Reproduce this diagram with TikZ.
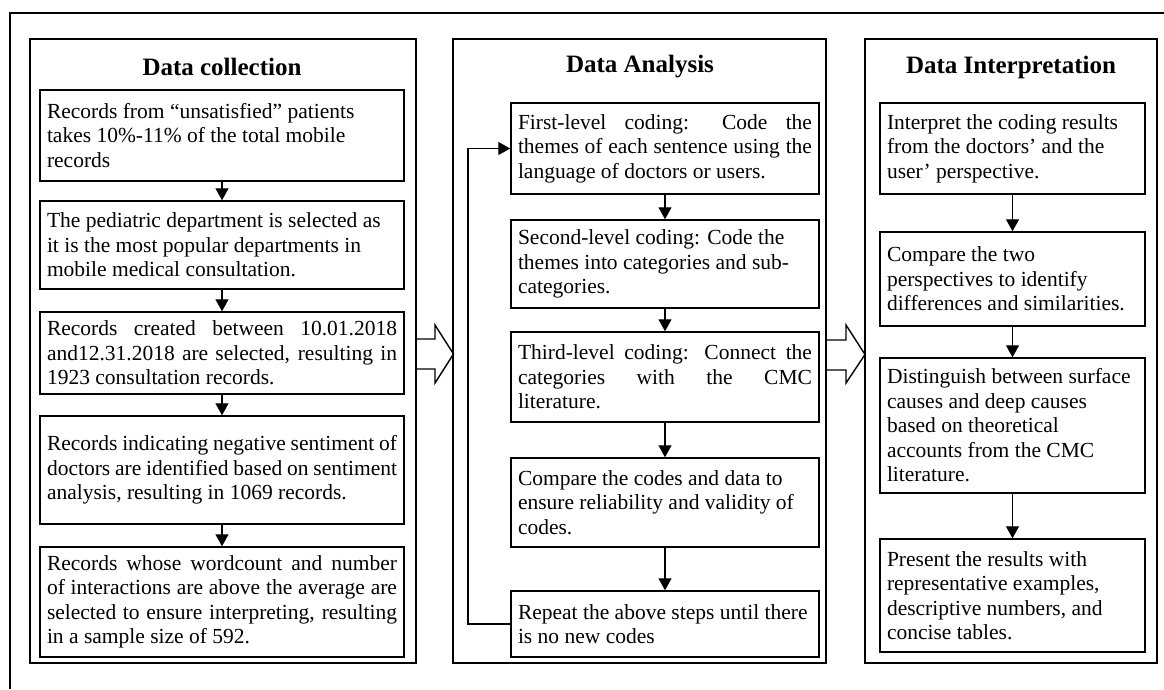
\documentclass[tikz,border=0pt]{standalone}
\usepackage{fontspec}
\setmainfont{Liberation Serif}
\usetikzlibrary{arrows.meta}
\begin{document}
\begin{tikzpicture}[x=1pt,y=-1pt,
  panel/.style={draw,line width=1.5pt,inner sep=0pt},
  box/.style={draw,line width=1.5pt,inner xsep=7pt,inner ysep=0pt,align=justify,
    font=\fontsize{21.5}{24.5}\selectfont},
  ttl/.style={font=\fontsize{25}{28}\selectfont\bfseries},
  arr/.style={line width=1.4pt,-{Triangle[length=12pt,width=13pt]}},
  blk/.style={line width=1.4pt,line join=miter}]
\useasboundingbox (0,0) rectangle (1164,689);
% outer frame (cut by the picture edge)
\draw[line width=1.5pt] (10,689) -- (10,13) -- (1164,13);
% panels
\node[panel,minimum width=386pt,minimum height=624pt] (P1) at (223,351) {};
\node[panel,minimum width=373pt,minimum height=624pt] (P2) at (639.5,351) {};
\node[panel,minimum width=292pt,minimum height=624pt] (P3) at (1011,351) {};
% titles
\node[ttl] (T1) at (222,67) {Data collection};
\node[ttl] (T2) at (640,67) {Data Analysis};
\node[ttl] (T3) at (1011,67) {Data Interpretation};
% left column
\node[box,text width=350pt,minimum width=364pt,minimum height=91pt] (L1) at (222,135.5)
 {Records from “unsatisfied” patients\newline takes 10\%-11\% of the total mobile\newline records};
\node[box,text width=350pt,minimum width=364pt,minimum height=88pt] (L2) at (222,245)
 {The pediatric department is selected as\newline it is the most popular departments in\newline mobile medical consultation.};
\node[box,text width=350pt,minimum width=364pt,minimum height=82pt] (L3) at (222,353)
 {Records created between 10.01.2018\linebreak and12.31.2018 are selected, resulting in\linebreak 1923 consultation records.};
\node[box,text width=350pt,minimum width=364pt,minimum height=108pt] (L4) at (222,470)
 {Records indicating negative sentiment of\linebreak doctors are identified based on sentiment\linebreak analysis, resulting in 1069 records.};
\node[box,text width=350pt,minimum width=364pt,minimum height=110pt] (L5) at (222,602)
 {Records whose wordcount and number\linebreak of interactions are above the average are\linebreak selected to ensure interpreting, resulting\linebreak in a sample size of 592.};
% middle column
\node[box,text width=294pt,minimum width=308pt,minimum height=91pt] (M1) at (665,148.5)
 {First-level coding: Code the\linebreak themes of each sentence using the\linebreak language of doctors or users.};
\node[box,text width=294pt,minimum width=308pt,minimum height=88pt] (M2) at (665,264)
 {Second-level coding: Code the\newline themes into categories and sub-\newline categories.};
\node[box,text width=294pt,minimum width=308pt,minimum height=90pt] (M3) at (665,377)
 {Third-level coding: Connect the\linebreak categories with the CMC\linebreak literature.};
\node[box,text width=294pt,minimum width=308pt,minimum height=89pt] (M4) at (665,502.5)
 {Compare the codes and data to\newline ensure reliability and validity of\newline codes.};
\node[box,text width=294pt,minimum width=308pt,minimum height=66pt] (M5) at (665,624)
 {Repeat the above steps until there\newline is no new codes};
% right column
\node[box,text width=251pt,minimum width=265pt,minimum height=91pt] (R1) at (1012.5,148.5)
 {Interpret the coding results\newline from the doctors’ and the\newline user’ perspective.};
\node[box,text width=251pt,minimum width=265pt,minimum height=94pt] (R2) at (1012.5,279)
 {Compare the two\newline perspectives to identify\newline differences and similarities.};
\node[box,text width=251pt,minimum width=265pt,minimum height=135pt] (R3) at (1012.5,425.5)
 {Distinguish between surface\newline causes and deep causes\newline based on theoretical\newline accounts from the CMC\newline literature.};
\node[box,text width=251pt,minimum width=265pt,minimum height=113pt] (R4) at (1012.5,595.5)
 {Present the results with\newline representative examples,\newline descriptive numbers, and\newline concise tables.};
% arrows
\draw[arr] (L1) -- (L2);
\draw[arr] (L2) -- (L3);
\draw[arr] (L3) -- (L4);
\draw[arr] (L4) -- (L5);
\draw[arr] (M1) -- (M2);
\draw[arr] (M2) -- (M3);
\draw[arr] (M3) -- (M4);
\draw[arr] (M4) -- (M5);
\draw[arr] (R1) -- (R2);
\draw[arr] (R2) -- (R3);
\draw[arr] (R3) -- (R4);
% feedback loop
\coordinate (lp) at (468,0);
\draw[arr] (M5.west) -- (M5.west -| lp) |- (M1.west);
% block arrows between panels
\draw[blk] (416,339) -- (435,339) -- (435,325) -- (453.5,354) -- (435,383) -- (435,369) -- (416,369);
\draw[blk] (826,340) -- (846,340) -- (846,325) -- (865,354.5) -- (846,383) -- (846,370) -- (826,370);
\end{tikzpicture}
\end{document}
